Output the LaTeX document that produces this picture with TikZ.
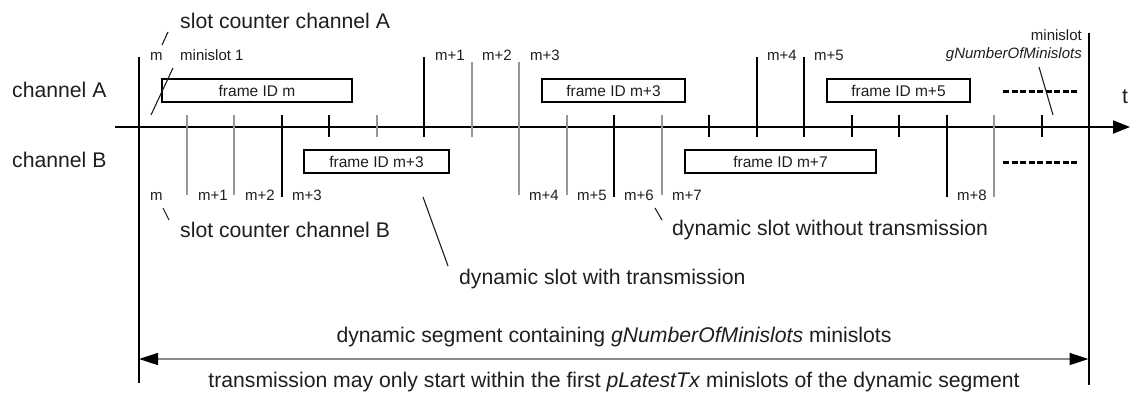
\documentclass[tikz,border=0pt]{standalone}
\usepackage{fontspec}
\setmainfont{Liberation Sans}
\usetikzlibrary{arrows.meta}
\definecolor{ink}{HTML}{1E1E1E}
\definecolor{lgray}{HTML}{969696}
\definecolor{agray}{HTML}{8A8A8A}
\begin{document}
\begin{tikzpicture}[x=1pt,y=-1pt,
  big/.style={font=\fontsize{21.2}{25}\selectfont, text=ink, inner sep=0pt},
  small/.style={font=\fontsize{15}{17}\selectfont, text=ink, inner sep=0pt},
  framebox/.style={draw=black, line width=1.8pt, minimum height=23pt, inner sep=0pt,
    font=\fontsize{15.5}{18}\selectfont, text=ink},
  blk/.style={line width=2pt, draw=black},
  gry/.style={line width=2pt, draw=lgray},
  leader/.style={line width=1.1pt, draw=ink},
  dots/.style={line width=3pt, draw=black, dash pattern=on 6pt off 2.5pt},
]
\useasboundingbox (0,0) rectangle (1130,394);

% time axis
\coordinate (t0) at (115,127);
\coordinate (t1) at (1130,127);
\draw[line width=2pt, -{Triangle[length=17pt,width=13pt]}] (t0) -- (t1);
\node[big, anchor=base] (tlab) at (1125,103) {t};

% segment boundaries
\draw[blk] (139,57) -- (139,383);
\draw[blk] (1088.5,33) -- (1088.5,385);

% minislot action points: short ticks
\foreach \k in {4,12,15,16,19} \draw[blk] ({139+47.5*\k},115) -- ({139+47.5*\k},137);
\draw[gry] ({139+47.5*5},115) -- ({139+47.5*5},137);

% channel A slot boundaries
\foreach \k in {6,13,14} \draw[blk] ({139+47.5*\k},57) -- ({139+47.5*\k},137);
\draw[gry] ({139+47.5*7},62) -- ({139+47.5*7},137);
\draw[gry] ({139+47.5*8},62) -- ({139+47.5*8},195);

% channel B slot boundaries
\foreach \k in {1,2,9,11} \draw[gry] ({139+47.5*\k},115) -- ({139+47.5*\k},195);
\draw[gry] ({139+47.5*18},115) -- ({139+47.5*18},197);
\foreach \k in {3,10,17} \draw[blk] ({139+47.5*\k},115) -- ({139+47.5*\k},197);

% channel names
\node[big, anchor=base west] (chA) at (12,97) {channel A};
\node[big, anchor=base west] (chB) at (12,167) {channel B};

% frames
\node[framebox, minimum width=190pt] (fA1) at (257,90.5) {frame ID m};
\node[framebox, minimum width=143pt] (fA2) at (613.5,90.5) {frame ID m+3};
\node[framebox, minimum width=143pt] (fA3) at (898.5,90.5) {frame ID m+5};
\node[framebox, minimum width=145pt] (fB1) at (376.5,161.5) {frame ID m+3};
\node[framebox, minimum width=191pt] (fB2) at (780.5,161.5) {frame ID m+7};

% remaining minislots
\coordinate (dA0) at (1003,91);
\coordinate (dA1) at (1077,91);
\coordinate (dB0) at (1003,162);
\coordinate (dB1) at (1077,162);
\draw[dots] (dA0) -- (dA1);
\draw[dots] (dB0) -- (dB1);

% slot counter channel A
\node[small, anchor=base west] (cA0) at (150,60) {m};
\node[small, anchor=base west] (ms1) at (180,60) {minislot 1};
\node[small, anchor=base west] (cA1) at (435,60) {m+1};
\node[small, anchor=base west] (cA2) at (482,60) {m+2};
\node[small, anchor=base west] (cA3) at (530,60) {m+3};
\node[small, anchor=base west] (cA4) at (767,60) {m+4};
\node[small, anchor=base west] (cA5) at (814,60) {m+5};

% slot counter channel B
\node[small, anchor=base west] (cB0) at (150,200) {m};
\node[small, anchor=base west] (cB1) at (198,200) {m+1};
\node[small, anchor=base west] (cB2) at (245,200) {m+2};
\node[small, anchor=base west] (cB3) at (292,200) {m+3};
\node[small, anchor=base west] (cB4) at (529,200) {m+4};
\node[small, anchor=base west] (cB5) at (577,200) {m+5};
\node[small, anchor=base west] (cB6) at (624,200) {m+6};
\node[small, anchor=base west] (cB7) at (672,200) {m+7};
\node[small, anchor=base west] (cB8) at (957,200) {m+8};

% last minislot
\node[small, anchor=base east] (mslast) at (1082,40) {minislot};
\node[small, anchor=base east] (gnm) at (1082,58) {\itshape gNumberOfMinislots};

% annotations
\node[big, anchor=base west] (scA) at (180,28) {slot counter channel A};
\node[big, anchor=base west] (scB) at (180,237) {slot counter channel B};
\node[big, anchor=base west] (dsw) at (459,284) {dynamic slot with transmission};
\node[big, anchor=base west] (dswo) at (672,235) {dynamic slot without transmission};

% leader lines
\coordinate (lA0) at (162,45);   \coordinate (lA1) at (168,32);
\coordinate (lm0) at (173,68);   \coordinate (lm1) at (151,115);
\coordinate (lB0) at (163,208);  \coordinate (lB1) at (169,220);
\coordinate (lw0) at (423,197);  \coordinate (lw1) at (448,266);
\coordinate (lo0) at (655,208);  \coordinate (lo1) at (662,220);
\coordinate (lg0) at (1039,67);  \coordinate (lg1) at (1053,115);
\draw[leader] (lA0) -- (lA1);
\draw[leader] (lm0) -- (lm1);
\draw[leader] (lB0) -- (lB1);
\draw[leader] (lw0) -- (lw1);
\draw[leader] (lo0) -- (lo1);
\draw[leader] (lg0) -- (lg1);

% dynamic segment extent
\coordinate (s0) at (139,359);
\coordinate (s1) at (1088.5,359);
\draw[line width=1.6pt, draw=agray,
  {Triangle[length=19pt,width=12pt,black]}-{Triangle[length=19pt,width=12pt,black]}] (s0) -- (s1);
\node[big, anchor=base] (seg) at (614,342)
  {dynamic segment containing \textit{gNumberOfMinislots} minislots};
\node[big, anchor=base] (ltx) at (614,387)
  {transmission may only start within the first \textit{pLatestTx} minislots of the dynamic segment};
\end{tikzpicture}
\end{document}
